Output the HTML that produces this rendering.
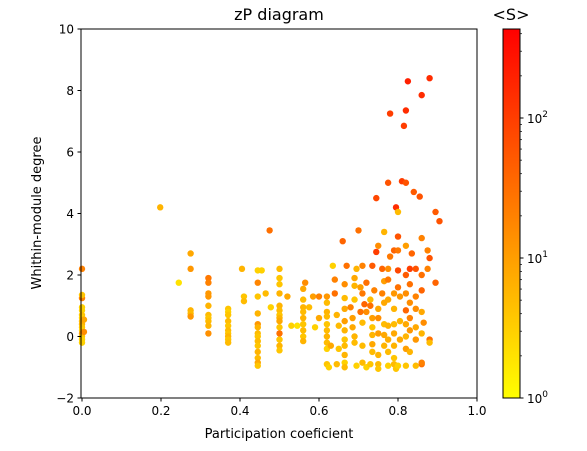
<!DOCTYPE html>
<html><head><meta charset="utf-8"><style>
body{margin:0;background:#fff;}
svg{display:block;font-family:"DejaVu Sans","Liberation Sans",sans-serif;}
</style></head><body>
<svg id="chart" width="587" height="451" viewBox="0 0 587 451">
<defs><linearGradient id="cb" x1="0" y1="1" x2="0" y2="0"><stop offset="0" stop-color="#ffff00"/><stop offset="1" stop-color="#ff0000"/></linearGradient></defs>
<rect x="0" y="0" width="587" height="451" fill="#fff"/>
<text x="279" y="20" font-size="16" text-anchor="middle">zP diagram</text>
<g id="points"></g>
<rect x="81" y="29" width="396" height="369" fill="none" stroke="#000" stroke-width="1"/>
<g id="xticks"></g>
<g id="yticks"></g>
<text x="279" y="438" font-size="13" text-anchor="middle">Participation coeficient</text>
<text transform="translate(41,213) rotate(-90)" font-size="13" text-anchor="middle">Whithin-module degree</text>
<rect x="503" y="29" width="17" height="369" fill="url(#cb)" stroke="#000" stroke-width="1"/>
<text x="511" y="20" font-size="16" text-anchor="middle">&lt;S&gt;</text>
<g id="cbticks"></g>
</svg>
<script>
const xTicks=[0,0.2,0.4,0.6,0.8,1.0];
const xTickLabels=["0.0","0.2","0.4","0.6","0.8","1.0"];
const yTicks=[-2,0,2,4,6,8,10];
const yTickLabels=["−2","0","2","4","6","8","10"];
const cbTicks=[0,1,2];
const cbTickLabels=["0","1","2"];
const pts=[
[0,2.2,20],[0,1.25,20],[0,1.35,4],[0,0.95,3],[0,0.85,3],[0,0.7,4],[0,0.6,3],[0,0.5,5],[0,0.4,6],[0,0.3,4],[0,0.2,3],[0,0.1,10],[0,0,4],[0,-0.1,3],[0,-0.2,3],[0.005,0.55,8],[0.005,0.15,15],
[0.198,4.2,6],[0.245,1.75,2],
[0.275,2.7,8],[0.275,2.2,12],[0.275,0.85,6],[0.275,0.75,5],[0.275,0.65,12],
[0.32,1.9,25],[0.32,1.75,20],[0.32,1.4,12],[0.32,1.3,12],[0.32,1.0,6],[0.32,0.7,5],[0.32,0.6,4],[0.32,0.5,5],[0.32,0.35,6],[0.32,0.1,14],
[0.37,0.9,4],[0.37,0.8,3],[0.37,0.7,4],[0.37,0.5,5],[0.37,0.35,4],[0.37,0.2,5],[0.37,0.1,4],[0.37,0,6],[0.37,-0.1,4],[0.37,-0.2,5],
[0.405,2.2,6],[0.41,1.3,4],[0.41,1.15,5],
[0.445,2.15,3],[0.445,1.75,18],[0.445,1.3,4],[0.445,0.75,6],[0.445,0.4,12],[0.445,0.3,6],[0.445,0.1,5],[0.445,0,4],[0.445,-0.15,5],[0.445,-0.3,4],[0.445,-0.5,6],[0.445,-0.7,5],[0.445,-0.85,8],[0.445,-0.95,4],
[0.475,3.45,30],[0.478,0.95,3],[0.465,1.4,5],[0.455,2.15,3],
[0.5,2.2,5],[0.5,1.9,4],[0.5,1.7,4],[0.5,1.4,6],[0.5,1.0,6],[0.5,0.85,5],[0.5,0.7,4],[0.5,0.6,6],[0.5,0.3,4],[0.5,0.1,30],[0.5,-0.1,4],[0.5,-0.3,6],[0.5,-0.45,4],[0.5,0.5,8],
[0.52,1.3,8],[0.53,0.35,3],[0.545,0.35,2],
[0.56,1.55,8],[0.565,1.75,15],[0.56,1.2,5],[0.56,0.95,6],[0.56,0.8,5],[0.56,0.6,6],[0.56,0.4,4],[0.56,0.2,5],[0.56,0,4],[0.56,-0.15,6],
[0.575,0.95,5],[0.585,1.3,10],[0.59,0.3,3],[0.6,1.3,20],[0.6,0.6,8],
[0.62,1.3,12],[0.62,1.1,5],[0.62,0.8,6],[0.62,0.65,5],[0.62,0.4,4],[0.62,0.2,5],[0.62,0,6],[0.62,-0.2,5],[0.62,-0.4,3],[0.62,-0.9,4],[0.625,-1.0,3],[0.63,-0.3,8],
[0.635,2.3,3],[0.64,1.85,20],[0.64,1.4,30],[0.645,0.7,6],[0.65,0.35,5],[0.65,-0.4,4],[0.645,-0.9,5],
[0.66,3.1,40],[0.665,1.7,15],[0.665,1.25,5],[0.665,0.9,8],[0.665,0.5,10],[0.665,0.2,6],[0.665,-0.1,4],[0.665,-0.3,5],[0.665,-0.6,6],[0.665,-0.85,3],[0.665,-1.0,5],[0.67,2.3,30],
[0.68,0.95,20],[0.685,0.6,10],[0.685,0.3,8],[0.69,1.9,8],[0.69,1.65,6],[0.69,1.2,4],[0.69,0,6],[0.69,-0.2,5],[0.695,2.2,6],[0.695,-0.95,3],
[0.7,3.45,30],[0.705,1.6,10],[0.705,0.8,30],[0.71,2.3,20],[0.71,1.4,25],[0.71,0.45,5],[0.71,-0.3,5],[0.715,1.05,40],[0.72,0.8,15],[0.72,1.75,30],
[0.73,1.2,5],[0.73,1.0,30],[0.735,2.3,50],[0.735,0.6,10],[0.735,0.3,4],[0.735,0.05,6],[0.735,-0.25,8],[0.735,-0.5,5],[0.74,1.5,20],[0.745,2.75,100],[0.745,4.5,80],[0.75,2.95,15],[0.75,0.9,8],[0.75,0.6,15],[0.75,0.1,10],[0.75,-0.6,6],[0.75,-0.9,5],[0.75,-1.05,4],
[0.76,2.2,40],[0.76,1.4,20],[0.765,3.4,6],[0.765,1.8,10],[0.765,1.1,8],[0.765,0.4,5],[0.765,0.05,8],[0.765,-0.3,6],[0.775,2.2,15],[0.775,1.85,25],[0.775,1.2,8],[0.775,0.35,6],[0.775,-0.1,7],[0.775,-0.5,5],[0.78,7.25,100],[0.775,5.0,60],[0.78,2.6,25],
[0.79,2.8,40],[0.795,4.2,150],[0.79,1.4,12],[0.79,0.9,6],[0.79,0.4,5],[0.79,0.1,8],[0.79,-0.3,6],[0.79,-0.7,4],[0.79,-0.9,5],[0.795,-1.05,4],[0.8,4.05,5],[0.8,3.25,60],[0.8,2.8,25],[0.8,2.15,80],[0.8,1.6,30],[0.805,1.3,12],[0.805,0.5,6],[0.805,-0.1,8],
[0.81,5.05,100],[0.815,6.85,100],[0.82,7.35,150],[0.825,8.3,200],[0.82,5.0,60],[0.82,2.95,10],[0.82,2.0,50],[0.82,1.4,15],[0.82,0.85,40],[0.82,0.4,8],[0.82,0.0,6],[0.82,-0.4,10],[0.83,2.2,100],[0.83,1.7,30],[0.83,1.1,15],[0.83,0.6,20],[0.83,0.2,12],[0.83,-0.5,6],[0.835,2.7,40],
[0.84,4.7,50],[0.845,2.2,60],[0.845,1.3,20],[0.845,0.9,15],[0.845,0.3,8],[0.845,-0.1,12],[0.855,4.55,60],[0.86,7.85,150],[0.86,3.2,20],[0.86,2.0,30],[0.86,1.5,40],[0.86,0.8,8],[0.86,0.1,6],[0.86,-0.9,30],[0.865,0.45,15],
[0.875,2.8,20],[0.875,2.2,20],[0.88,8.4,150],[0.88,2.55,60],[0.88,-0.1,30],[0.88,-0.2,5],[0.895,4.05,50],[0.895,1.75,40],[0.905,3.75,60],
[0.71,-0.85,5],[0.72,-1.0,3],[0.73,-0.9,4],[0.775,-0.95,3],[0.8,-0.95,3],[0.82,-0.95,4],[0.845,-0.95,5],[0.86,-0.85,20]
];
const participation=pts.map(p=>p[0]);
const withinDegree=pts.map(p=>p[1]);
const strength=pts.map(p=>p[2]);
const SMAX=430;
const NS="http://www.w3.org/2000/svg";
function sx(v){return 82+v*395;}
function sy(v){return 336.5-v*30.75;}
function cbY(d){return 398-d*140;}
function col(s){let t=Math.log10(s)/Math.log10(SMAX);t=Math.max(0,Math.min(1,t));return `rgb(255,${Math.round(255*(1-t))},0)`;}
function mk(tag,attrs,parent){const e=document.createElementNS(NS,tag);for(const k in attrs)e.setAttribute(k,attrs[k]);parent.appendChild(e);return e;}
const g=document.getElementById('points');
const order=strength.map((s,i)=>i);
order.forEach(i=>{
  const c=mk('circle',{cx:sx(participation[i]),cy:sy(withinDegree[i]),r:3.2,fill:col(strength[i])},g);
  
  
});
const xg=document.getElementById('xticks');
xTicks.forEach((v,i)=>{
  const l=mk('line',{x1:sx(v),x2:sx(v),y1:398,y2:401.5,stroke:'#000'},xg);
  
  
  const t=mk('text',{x:sx(v),y:415,'font-size':12,'text-anchor':'middle'},xg);
  t.textContent=xTickLabels[i];
  
  
});
const yg=document.getElementById('yticks');
yTicks.forEach((v,i)=>{
  const l=mk('line',{x1:77.5,x2:81,y1:sy(v),y2:sy(v),stroke:'#000'},yg);
  
  
  const t=mk('text',{x:74,y:sy(v)+4.5,'font-size':12,'text-anchor':'end'},yg);
  t.textContent=yTickLabels[i];
  
  
});
const cg=document.getElementById('cbticks');
cbTicks.forEach((d,i)=>{
  const l=mk('line',{x1:520,x2:523.5,y1:cbY(d),y2:cbY(d),stroke:'#000'},cg);
  
  
  const t=mk('text',{x:527,y:cbY(d)+5,'font-size':12},cg);
  
  
  t.textContent='10';
  const sp=mk('tspan',{dy:-6,'font-size':9},t);
  sp.textContent=cbTickLabels[i];
});
for(let d=0;d<2.64;d+=1){for(let m=2;m<10;m++){const v=d+Math.log10(m);if(v>2.634)break;
  const l=mk('line',{x1:520,x2:522,y1:cbY(v),y2:cbY(v),stroke:'#000','stroke-width':0.7},cg);
  
  
}}
</script>
</body></html>
